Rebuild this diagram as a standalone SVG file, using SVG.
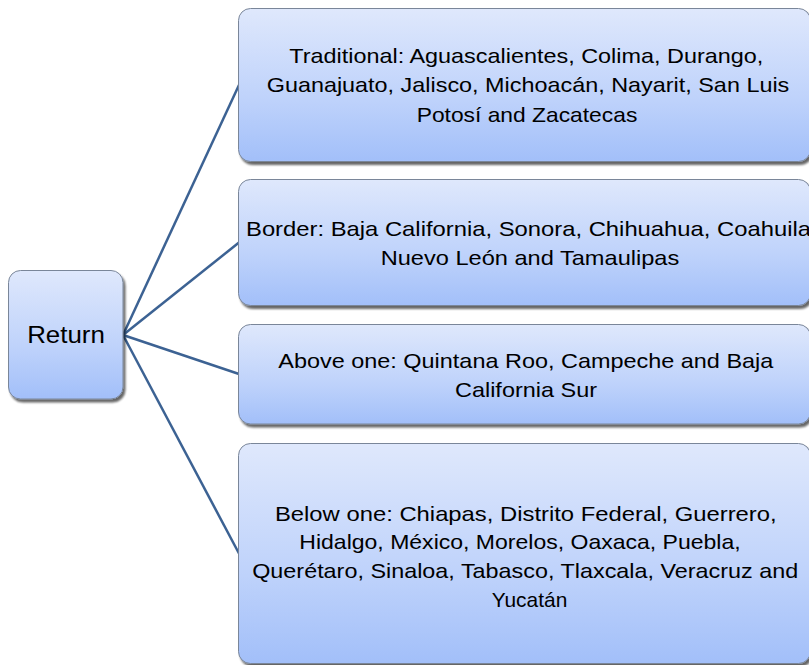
<svg xmlns="http://www.w3.org/2000/svg" width="809" height="665" viewBox="0 0 809 665">
<defs>
<linearGradient id="g" x1="0" y1="0" x2="0" y2="1">
<stop offset="0" stop-color="#dfe8fc"/>
<stop offset="0.6" stop-color="#bed2fb"/>
<stop offset="1" stop-color="#a2bff9"/>
</linearGradient>
<filter id="sh" x="-5%" y="-5%" width="110%" height="115%">
<feGaussianBlur in="SourceAlpha" stdDeviation="1"/>
<feOffset dx="1.5" dy="2.5" result="o"/>
<feComponentTransfer><feFuncA type="linear" slope="0.6"/></feComponentTransfer>
<feMerge><feMergeNode/><feMergeNode in="SourceGraphic"/></feMerge>
</filter>
</defs>
<style>
.box{fill:url(#g);stroke:#7a8699;stroke-width:1;filter:url(#sh)}
.t{font-family:"Liberation Sans",Arial,sans-serif;font-size:21px;fill:#000;text-anchor:middle}
.ts{font-family:"Liberation Sans",Arial,sans-serif;font-size:21px;fill:#000;text-anchor:start}
.c{stroke:#3c6293;stroke-width:2.5;fill:none}
</style>
<rect width="809" height="665" fill="#fff"/>
<g id="connectors">
<line class="c" x1="123" y1="335" x2="239" y2="85"/>
<line class="c" x1="123" y1="335" x2="239" y2="242.5"/>
<line class="c" x1="123" y1="335" x2="239" y2="374"/>
<line class="c" x1="123" y1="335" x2="239" y2="553.5"/>
</g>
<g id="return">
<rect class="box" x="8.5" y="270.5" width="114.5" height="128.5" rx="12"/>
<text class="t" x="66" y="343.3" style="font-size:24px" textLength="77.7" lengthAdjust="spacingAndGlyphs">Return</text>
</g>
<g id="traditional">
<rect class="box" x="238.5" y="8.5" width="572" height="153" rx="12"/>
<text class="t" x="526.3" y="63.3" textLength="474" lengthAdjust="spacingAndGlyphs">Traditional: Aguascalientes, Colima, Durango,</text>
<text class="t" x="528" y="92.3" textLength="522.6" lengthAdjust="spacingAndGlyphs">Guanajuato, Jalisco, Michoacán, Nayarit, San Luis</text>
<text class="t" x="527" y="121.7" textLength="220.6" lengthAdjust="spacingAndGlyphs">Potosí and Zacatecas</text>
</g>
<g id="border">
<rect class="box" x="238.5" y="179.5" width="572" height="126" rx="12"/>
<text class="ts" x="246" y="235.7" textLength="565" lengthAdjust="spacingAndGlyphs">Border: Baja California, Sonora, Chihuahua, Coahuila</text>
<text class="t" x="530" y="265" textLength="298.6" lengthAdjust="spacingAndGlyphs">Nuevo León and Tamaulipas</text>
</g>
<g id="above">
<rect class="box" x="238.5" y="324.5" width="572" height="99.5" rx="12"/>
<text class="t" x="525.8" y="368.3" textLength="495" lengthAdjust="spacingAndGlyphs">Above one: Quintana Roo, Campeche and Baja</text>
<text class="t" x="526" y="396.7" textLength="142" lengthAdjust="spacingAndGlyphs">California Sur</text>
</g>
<g id="below">
<rect class="box" x="238.5" y="443.5" width="572" height="220" rx="12"/>
<text class="t" x="525.8" y="521" textLength="501.7" lengthAdjust="spacingAndGlyphs">Below one: Chiapas, Distrito Federal, Guerrero,</text>
<text class="t" x="520" y="549" textLength="441.4" lengthAdjust="spacingAndGlyphs">Hidalgo, México, Morelos, Oaxaca, Puebla,</text>
<text class="t" x="525.2" y="578.3" textLength="546" lengthAdjust="spacingAndGlyphs">Querétaro, Sinaloa, Tabasco, Tlaxcala, Veracruz and</text>
<text class="t" x="529.5" y="607" textLength="75.6" lengthAdjust="spacingAndGlyphs">Yucatán</text>
</g>
</svg>
